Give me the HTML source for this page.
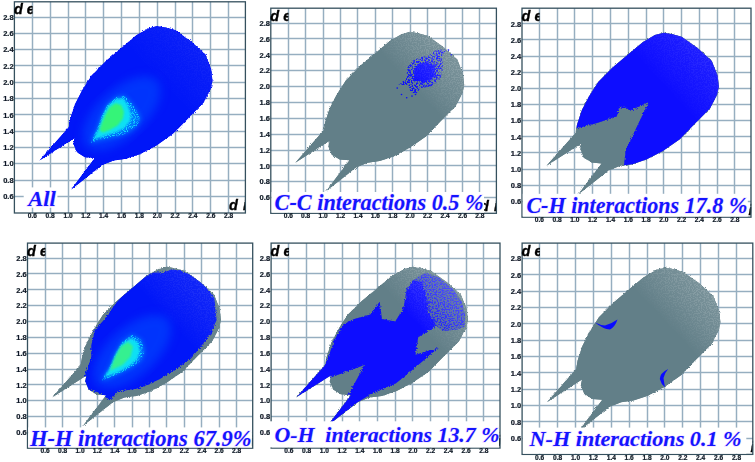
<!DOCTYPE html>
<html><head><meta charset="utf-8"><title>Fingerprint plots</title>
<style>html,body{margin:0;padding:0;background:#fff;}body{width:755px;height:462px;overflow:hidden;font-family:"Liberation Sans",sans-serif;}svg{display:block;}</style>
</head><body>
<svg width="755" height="462" viewBox="0 0 755 462">
<defs>
<filter id="rough" x="-5%" y="-5%" width="110%" height="110%">
<feTurbulence type="fractalNoise" baseFrequency="0.95" numOctaves="1" seed="3" result="n"/>
<feDisplacementMap in="SourceGraphic" in2="n" scale="4" xChannelSelector="R" yChannelSelector="G"/>
</filter>
<filter id="rough2" x="-5%" y="-5%" width="110%" height="110%">
<feTurbulence type="fractalNoise" baseFrequency="0.7" numOctaves="2" seed="8" result="n"/>
<feDisplacementMap in="SourceGraphic" in2="n" scale="5" xChannelSelector="R" yChannelSelector="G"/>
</filter>
<filter id="b1"><feGaussianBlur stdDeviation="1.2"/></filter>
<filter id="b2"><feGaussianBlur stdDeviation="2.5"/></filter>
<filter id="b4"><feGaussianBlur stdDeviation="5"/></filter>
<filter id="soft"><feGaussianBlur stdDeviation="0.35"/></filter>
<filter id="gsoft"><feGaussianBlur stdDeviation="0.5"/></filter>
<filter id="speck" x="0" y="0" width="100%" height="100%">
<feTurbulence type="fractalNoise" baseFrequency="0.9" numOctaves="1" seed="5" result="n"/>
<feColorMatrix in="n" type="matrix" values="0 0 0 0 0  0 0 0 0 0  0 0 0 0 0  6 0 0 0 -2.9" result="m"/>
<feComposite in="SourceGraphic" in2="m" operator="in"/>
</filter>
<filter id="speck2" x="0" y="0" width="100%" height="100%">
<feTurbulence type="fractalNoise" baseFrequency="0.75" numOctaves="2" seed="11" result="n"/>
<feColorMatrix in="n" type="matrix" values="0 0 0 0 0  0 0 0 0 0  0 0 0 0 0  9 0 0 0 -4.3" result="m"/>
<feComposite in="SourceGraphic" in2="m" operator="in"/>
</filter>
<filter id="speck3" x="0" y="0" width="100%" height="100%">
<feTurbulence type="fractalNoise" baseFrequency="0.6" numOctaves="2" seed="21" result="n"/>
<feColorMatrix in="n" type="matrix" values="0 0 0 0 0  0 0 0 0 0  0 0 0 0 0  9 0 0 0 -4.1" result="m"/>
<feComposite in="SourceGraphic" in2="m" operator="in"/>
</filter>
</defs>
<rect width="755" height="462" fill="#fff"/>
<g id="p0">
<g stroke="#96aec0" stroke-width="3.00" stroke-opacity="0.24"><line x1="32.5" y1="1.8" x2="32.5" y2="213.0"/><line x1="14.4" y1="196.5" x2="245.4" y2="196.5"/><line x1="50.5" y1="1.8" x2="50.5" y2="213.0"/><line x1="14.4" y1="180.5" x2="245.4" y2="180.5"/><line x1="68.5" y1="1.8" x2="68.5" y2="213.0"/><line x1="14.4" y1="163.5" x2="245.4" y2="163.5"/><line x1="85.5" y1="1.8" x2="85.5" y2="213.0"/><line x1="14.4" y1="147.5" x2="245.4" y2="147.5"/><line x1="103.5" y1="1.8" x2="103.5" y2="213.0"/><line x1="14.4" y1="131.5" x2="245.4" y2="131.5"/><line x1="121.5" y1="1.8" x2="121.5" y2="213.0"/><line x1="14.4" y1="114.5" x2="245.4" y2="114.5"/><line x1="139.5" y1="1.8" x2="139.5" y2="213.0"/><line x1="14.4" y1="98.5" x2="245.4" y2="98.5"/><line x1="157.5" y1="1.8" x2="157.5" y2="213.0"/><line x1="14.4" y1="82.5" x2="245.4" y2="82.5"/><line x1="175.5" y1="1.8" x2="175.5" y2="213.0"/><line x1="14.4" y1="65.5" x2="245.4" y2="65.5"/><line x1="192.5" y1="1.8" x2="192.5" y2="213.0"/><line x1="14.4" y1="49.5" x2="245.4" y2="49.5"/><line x1="210.5" y1="1.8" x2="210.5" y2="213.0"/><line x1="14.4" y1="33.5" x2="245.4" y2="33.5"/><line x1="228.5" y1="1.8" x2="228.5" y2="213.0"/><line x1="14.4" y1="17.5" x2="245.4" y2="17.5"/></g><g stroke="#96aec0" stroke-width="1.00" stroke-opacity="1.00"><line x1="32.5" y1="1.8" x2="32.5" y2="213.0"/><line x1="14.4" y1="196.5" x2="245.4" y2="196.5"/><line x1="50.5" y1="1.8" x2="50.5" y2="213.0"/><line x1="14.4" y1="180.5" x2="245.4" y2="180.5"/><line x1="68.5" y1="1.8" x2="68.5" y2="213.0"/><line x1="14.4" y1="163.5" x2="245.4" y2="163.5"/><line x1="85.5" y1="1.8" x2="85.5" y2="213.0"/><line x1="14.4" y1="147.5" x2="245.4" y2="147.5"/><line x1="103.5" y1="1.8" x2="103.5" y2="213.0"/><line x1="14.4" y1="131.5" x2="245.4" y2="131.5"/><line x1="121.5" y1="1.8" x2="121.5" y2="213.0"/><line x1="14.4" y1="114.5" x2="245.4" y2="114.5"/><line x1="139.5" y1="1.8" x2="139.5" y2="213.0"/><line x1="14.4" y1="98.5" x2="245.4" y2="98.5"/><line x1="157.5" y1="1.8" x2="157.5" y2="213.0"/><line x1="14.4" y1="82.5" x2="245.4" y2="82.5"/><line x1="175.5" y1="1.8" x2="175.5" y2="213.0"/><line x1="14.4" y1="65.5" x2="245.4" y2="65.5"/><line x1="192.5" y1="1.8" x2="192.5" y2="213.0"/><line x1="14.4" y1="49.5" x2="245.4" y2="49.5"/><line x1="210.5" y1="1.8" x2="210.5" y2="213.0"/><line x1="14.4" y1="33.5" x2="245.4" y2="33.5"/><line x1="228.5" y1="1.8" x2="228.5" y2="213.0"/><line x1="14.4" y1="17.5" x2="245.4" y2="17.5"/></g>
<clipPath id="c0"><rect x="14.4" y="1.8" width="231.0" height="211.2"/></clipPath>
<clipPath id="body0"><polygon points="39.5,160.5 68.7,127.2 70.2,118.8 74.9,104.4 82.1,90.4 91.4,75.7 105.5,61.5 122.2,47.2 136.4,35.3 148.3,28.5 157.3,26.1 166.2,27.7 175.1,30.1 191.1,41.5 205.4,54.6 211.2,69.2 212.5,80.6 210.8,88.8 203.6,102.6 189.4,117.0 173.3,133.6 156.4,145.5 140.3,153.9 125.9,158.8 113.6,160.5 101.8,165.3 71.0,189.8 94.8,158.0 85.0,157.2 77.0,152.3 73.4,143.8 74.6,137.9"/></clipPath>
<g clip-path="url(#c0)">
<polygon points="39.5,160.5 68.7,127.2 70.2,118.8 74.9,104.4 82.1,90.4 91.4,75.7 105.5,61.5 122.2,47.2 136.4,35.3 148.3,28.5 157.3,26.1 166.2,27.7 175.1,30.1 191.1,41.5 205.4,54.6 211.2,69.2 212.5,80.6 210.8,88.8 203.6,102.6 189.4,117.0 173.3,133.6 156.4,145.5 140.3,153.9 125.9,158.8 113.6,160.5 101.8,165.3 71.0,189.8 94.8,158.0 85.0,157.2 77.0,152.3 73.4,143.8 74.6,137.9" fill="#0412f8"/>
<polygon points="39.5,160.5 68.7,127.2 70.2,118.8 74.9,104.4 82.1,90.4 91.4,75.7 105.5,61.5 122.2,47.2 136.4,35.3 148.3,28.5 157.3,26.1 166.2,27.7 175.1,30.1 191.1,41.5 205.4,54.6 211.2,69.2 212.5,80.6 210.8,88.8 203.6,102.6 189.4,117.0 173.3,133.6 156.4,145.5 140.3,153.9 125.9,158.8 113.6,160.5 101.8,165.3 71.0,189.8 94.8,158.0 85.0,157.2 77.0,152.3 73.4,143.8 74.6,137.9" fill="#0412f8" filter="url(#rough)"/>
<g clip-path="url(#body0)"><ellipse cx="121.6" cy="113.2" rx="48" ry="24" transform="rotate(-42.4 121.6 113.2)" fill="#0050ff" opacity="0.55" filter="url(#b4)"/><polygon points="90.7,143.0 97.1,129.0 101.7,116.4 107.4,104.9 116.6,96.9 124.6,95.7 130.2,101.5 136.0,109.5 140.7,118.7 136.0,126.7 128.0,132.4 118.9,135.9 107.4,138.2 97.1,140.5" fill="#0090ff" opacity="0.75" filter="url(#b2)"/><polygon points="90.7,143.0 97.1,129.0 101.7,116.4 107.4,104.9 116.6,96.9 124.6,95.7 130.2,101.5 136.0,109.5 140.7,118.7 136.0,126.7 128.0,132.4 118.9,135.9 107.4,138.2 97.1,140.5" fill="#10d8ff" filter="url(#speck)"/><polygon points="93.5,139.3 98.8,127.9 102.9,116.1 108.2,105.5 116.2,99.0 123.4,98.6 127.8,105.1 130.5,113.2 130.5,120.5 124.3,127.9 116.2,132.0 106.4,135.2 98.4,137.7" fill="#10e0f4" filter="url(#b1)"/><polygon points="99.4,130.1 101.7,123.3 105.1,115.2 109.7,107.2 115.4,103.2 121.2,104.9 124.0,111.8 122.9,118.7 117.7,125.6 109.7,130.1 102.8,132.4" fill="#34f478" filter="url(#b1)"/></g>
<linearGradient id="lg0" gradientUnits="userSpaceOnUse" x1="155.5" y1="78.2" x2="194.7" y2="41.5"><stop offset="0" stop-color="#fff" stop-opacity="0"/><stop offset="0.55" stop-color="#fff" stop-opacity="0.02"/><stop offset="1" stop-color="#fff" stop-opacity="0.04"/></linearGradient>
<g clip-path="url(#body0)"><rect x="14.4" y="1.8" width="231.0" height="211.2" fill="url(#lg0)"/>
<rect x="112.7" y="17.1" width="115.9" height="105.9" fill="url(#lg0)" filter="url(#speck2)" opacity="1.00"/></g>
</g>
<clipPath id="di0"><rect x="225.4" y="197.0" width="20.3" height="20"/></clipPath>
<text x="228.9" y="210.4" clip-path="url(#di0)" font-family="Liberation Sans, sans-serif" font-weight="bold" font-style="italic" font-size="14.5" fill="#000" stroke="#000" stroke-width="0.35" word-spacing="1.2" filter="url(#soft)">d i</text>
<rect x="14.4" y="1.8" width="231.0" height="211.2" fill="none" stroke="#35505e" stroke-width="1.3"/>
<rect x="23.7" y="187.4" width="33.7" height="20.3" fill="#fff"/>
<g font-family="Liberation Sans, sans-serif" font-weight="bold" fill="#0e1a26" stroke="#0e1a26" stroke-width="0.22" filter="url(#soft)">
<text x="13.6" y="199.0" font-size="7.5" text-anchor="end">0.6</text>
<text transform="translate(32.4 218.1) scale(1 1)" font-size="6.6" text-anchor="middle">0.6</text>
<text x="13.6" y="182.7" font-size="7.5" text-anchor="end">0.8</text>
<text transform="translate(50.2 218.1) scale(1 1)" font-size="6.6" text-anchor="middle">0.8</text>
<text x="13.6" y="166.4" font-size="7.5" text-anchor="end">1.0</text>
<text transform="translate(68.1 218.1) scale(1 1)" font-size="6.6" text-anchor="middle">1.0</text>
<text x="13.6" y="150.1" font-size="7.5" text-anchor="end">1.2</text>
<text transform="translate(85.9 218.1) scale(1 1)" font-size="6.6" text-anchor="middle">1.2</text>
<text x="13.6" y="133.8" font-size="7.5" text-anchor="end">1.4</text>
<text transform="translate(103.7 218.1) scale(1 1)" font-size="6.6" text-anchor="middle">1.4</text>
<text x="13.6" y="117.5" font-size="7.5" text-anchor="end">1.6</text>
<text transform="translate(121.6 218.1) scale(1 1)" font-size="6.6" text-anchor="middle">1.6</text>
<text x="13.6" y="101.3" font-size="7.5" text-anchor="end">1.8</text>
<text transform="translate(139.4 218.1) scale(1 1)" font-size="6.6" text-anchor="middle">1.8</text>
<text x="13.6" y="85.0" font-size="7.5" text-anchor="end">2.0</text>
<text transform="translate(157.3 218.1) scale(1 1)" font-size="6.6" text-anchor="middle">2.0</text>
<text x="13.6" y="68.7" font-size="7.5" text-anchor="end">2.2</text>
<text transform="translate(175.1 218.1) scale(1 1)" font-size="6.6" text-anchor="middle">2.2</text>
<text x="13.6" y="52.4" font-size="7.5" text-anchor="end">2.4</text>
<text transform="translate(192.9 218.1) scale(1 1)" font-size="6.6" text-anchor="middle">2.4</text>
<text x="13.6" y="36.1" font-size="7.5" text-anchor="end">2.6</text>
<text transform="translate(210.8 218.1) scale(1 1)" font-size="6.6" text-anchor="middle">2.6</text>
<text x="13.6" y="19.8" font-size="7.5" text-anchor="end">2.8</text>
<text transform="translate(228.6 218.1) scale(1 1)" font-size="6.6" text-anchor="middle">2.8</text>
</g>
<g font-family="Liberation Sans, sans-serif" font-weight="bold" font-style="italic" font-size="14.5" fill="#000" stroke="#000" stroke-width="0.35" filter="url(#soft)">
<clipPath id="de0"><rect x="12.4" y="-0.2" width="20.2" height="20"/></clipPath>
<text x="13.9" y="14.3" clip-path="url(#de0)">d e</text>
</g>
<text x="28.3" y="205.8" textLength="27.6" lengthAdjust="spacingAndGlyphs" font-family="Liberation Serif, serif" font-weight="bold" font-style="italic" font-size="22.0" fill="#1414ff" stroke="#ecd6ff" stroke-width="1.2" paint-order="stroke" xml:space="preserve">All</text>
</g>
<g id="p1">
<g stroke="#96aec0" stroke-width="3.00" stroke-opacity="0.24"><line x1="288.5" y1="8.2" x2="288.5" y2="213.3"/><line x1="270.8" y1="197.5" x2="496.4" y2="197.5"/><line x1="305.5" y1="8.2" x2="305.5" y2="213.3"/><line x1="270.8" y1="181.5" x2="496.4" y2="181.5"/><line x1="323.5" y1="8.2" x2="323.5" y2="213.3"/><line x1="270.8" y1="165.5" x2="496.4" y2="165.5"/><line x1="340.5" y1="8.2" x2="340.5" y2="213.3"/><line x1="270.8" y1="150.5" x2="496.4" y2="150.5"/><line x1="357.5" y1="8.2" x2="357.5" y2="213.3"/><line x1="270.8" y1="134.5" x2="496.4" y2="134.5"/><line x1="375.5" y1="8.2" x2="375.5" y2="213.3"/><line x1="270.8" y1="118.5" x2="496.4" y2="118.5"/><line x1="392.5" y1="8.2" x2="392.5" y2="213.3"/><line x1="270.8" y1="102.5" x2="496.4" y2="102.5"/><line x1="410.5" y1="8.2" x2="410.5" y2="213.3"/><line x1="270.8" y1="86.5" x2="496.4" y2="86.5"/><line x1="427.5" y1="8.2" x2="427.5" y2="213.3"/><line x1="270.8" y1="70.5" x2="496.4" y2="70.5"/><line x1="445.5" y1="8.2" x2="445.5" y2="213.3"/><line x1="270.8" y1="54.5" x2="496.4" y2="54.5"/><line x1="462.5" y1="8.2" x2="462.5" y2="213.3"/><line x1="270.8" y1="38.5" x2="496.4" y2="38.5"/><line x1="479.5" y1="8.2" x2="479.5" y2="213.3"/><line x1="270.8" y1="23.5" x2="496.4" y2="23.5"/></g><g stroke="#96aec0" stroke-width="1.00" stroke-opacity="1.00"><line x1="288.5" y1="8.2" x2="288.5" y2="213.3"/><line x1="270.8" y1="197.5" x2="496.4" y2="197.5"/><line x1="305.5" y1="8.2" x2="305.5" y2="213.3"/><line x1="270.8" y1="181.5" x2="496.4" y2="181.5"/><line x1="323.5" y1="8.2" x2="323.5" y2="213.3"/><line x1="270.8" y1="165.5" x2="496.4" y2="165.5"/><line x1="340.5" y1="8.2" x2="340.5" y2="213.3"/><line x1="270.8" y1="150.5" x2="496.4" y2="150.5"/><line x1="357.5" y1="8.2" x2="357.5" y2="213.3"/><line x1="270.8" y1="134.5" x2="496.4" y2="134.5"/><line x1="375.5" y1="8.2" x2="375.5" y2="213.3"/><line x1="270.8" y1="118.5" x2="496.4" y2="118.5"/><line x1="392.5" y1="8.2" x2="392.5" y2="213.3"/><line x1="270.8" y1="102.5" x2="496.4" y2="102.5"/><line x1="410.5" y1="8.2" x2="410.5" y2="213.3"/><line x1="270.8" y1="86.5" x2="496.4" y2="86.5"/><line x1="427.5" y1="8.2" x2="427.5" y2="213.3"/><line x1="270.8" y1="70.5" x2="496.4" y2="70.5"/><line x1="445.5" y1="8.2" x2="445.5" y2="213.3"/><line x1="270.8" y1="54.5" x2="496.4" y2="54.5"/><line x1="462.5" y1="8.2" x2="462.5" y2="213.3"/><line x1="270.8" y1="38.5" x2="496.4" y2="38.5"/><line x1="479.5" y1="8.2" x2="479.5" y2="213.3"/><line x1="270.8" y1="23.5" x2="496.4" y2="23.5"/></g>
<clipPath id="c1"><rect x="270.8" y="8.2" width="225.6" height="205.1"/></clipPath>
<clipPath id="body1"><polygon points="295.3,162.7 323.7,130.3 325.2,122.1 329.8,108.1 336.8,94.5 346.0,80.2 359.7,66.3 376.0,52.4 389.8,40.9 401.5,34.2 410.2,31.8 418.9,33.4 427.6,35.8 443.3,46.9 457.3,59.6 462.9,73.9 464.2,85.0 462.5,92.9 455.5,106.4 441.6,120.3 425.9,136.5 409.4,148.1 393.7,156.4 379.6,161.1 367.6,162.7 356.1,167.5 326.0,191.3 349.3,160.3 339.7,159.5 331.8,154.8 328.4,146.5 329.5,140.7"/></clipPath>
<g clip-path="url(#c1)">
<polygon points="295.3,162.7 323.7,130.3 325.2,122.1 329.8,108.1 336.8,94.5 346.0,80.2 359.7,66.3 376.0,52.4 389.8,40.9 401.5,34.2 410.2,31.8 418.9,33.4 427.6,35.8 443.3,46.9 457.3,59.6 462.9,73.9 464.2,85.0 462.5,92.9 455.5,106.4 441.6,120.3 425.9,136.5 409.4,148.1 393.7,156.4 379.6,161.1 367.6,162.7 356.1,167.5 326.0,191.3 349.3,160.3 339.7,159.5 331.8,154.8 328.4,146.5 329.5,140.7" fill="#627f88"/>
<polygon points="295.3,162.7 323.7,130.3 325.2,122.1 329.8,108.1 336.8,94.5 346.0,80.2 359.7,66.3 376.0,52.4 389.8,40.9 401.5,34.2 410.2,31.8 418.9,33.4 427.6,35.8 443.3,46.9 457.3,59.6 462.9,73.9 464.2,85.0 462.5,92.9 455.5,106.4 441.6,120.3 425.9,136.5 409.4,148.1 393.7,156.4 379.6,161.1 367.6,162.7 356.1,167.5 326.0,191.3 349.3,160.3 339.7,159.5 331.8,154.8 328.4,146.5 329.5,140.7" fill="#627f88" filter="url(#rough)"/>
<g clip-path="url(#body1)"><polygon points="405.9,80.2 407.6,67.5 412.8,60.4 420.7,57.2 429.4,54.8 436.4,50.1 446.8,49.3 441.6,56.4 443.3,67.5 439.8,80.2 431.1,86.6 420.7,88.1 415.5,94.5 410.2,91.3 408.5,85.0 398.0,85.0" fill="#0a0aff" filter="url(#speck3)"/>
<polygon points="413.7,78.6 414.6,69.1 418.9,63.6 427.6,62.0 434.6,65.9 435.5,75.4 429.4,81.0 420.7,82.6" fill="#0a0aff" filter="url(#rough2)"/></g>
<g fill="#0a0aff">
<circle cx="397.2" cy="88.1" r="0.8"/>
<circle cx="401.5" cy="94.5" r="0.8"/>
<circle cx="406.7" cy="97.7" r="0.8"/>
<circle cx="412.0" cy="96.1" r="0.8"/>
<circle cx="415.5" cy="94.5" r="0.8"/>
<circle cx="448.5" cy="50.1" r="0.8"/>
<circle cx="451.2" cy="54.8" r="0.8"/>
<circle cx="403.3" cy="81.8" r="0.8"/>
</g>
<linearGradient id="lg1" gradientUnits="userSpaceOnUse" x1="408.5" y1="82.6" x2="446.8" y2="46.9"><stop offset="0" stop-color="#fff" stop-opacity="0"/><stop offset="0.55" stop-color="#fff" stop-opacity="0.09"/><stop offset="1" stop-color="#fff" stop-opacity="0.15"/></linearGradient>
<g clip-path="url(#body1)"><rect x="270.8" y="8.2" width="225.6" height="205.1" fill="url(#lg1)"/>
<rect x="366.7" y="23.1" width="113.2" height="103.1" fill="url(#lg1)" filter="url(#speck2)" opacity="1.00"/></g>
</g>
<clipPath id="di1"><rect x="476.4" y="197.3" width="20.3" height="20"/></clipPath>
<text x="479.9" y="210.7" clip-path="url(#di1)" font-family="Liberation Sans, sans-serif" font-weight="bold" font-style="italic" font-size="14.5" fill="#000" stroke="#000" stroke-width="0.35" word-spacing="1.2" filter="url(#soft)">d i</text>
<rect x="270.8" y="8.2" width="225.6" height="205.1" fill="none" stroke="#35505e" stroke-width="1.3"/>
<rect x="271.6" y="192.0" width="212.4" height="20.6" fill="#fff"/>
<g font-family="Liberation Sans, sans-serif" font-weight="bold" fill="#0e1a26" stroke="#0e1a26" stroke-width="0.22" filter="url(#soft)">
<text x="270.0" y="200.3" font-size="7.5" text-anchor="end">0.6</text>
<text transform="translate(288.3 218.4) scale(1 1)" font-size="6.6" text-anchor="middle">0.6</text>
<text x="270.0" y="184.4" font-size="7.5" text-anchor="end">0.8</text>
<text transform="translate(305.7 218.4) scale(1 1)" font-size="6.6" text-anchor="middle">0.8</text>
<text x="270.0" y="168.6" font-size="7.5" text-anchor="end">1.0</text>
<text transform="translate(323.1 218.4) scale(1 1)" font-size="6.6" text-anchor="middle">1.0</text>
<text x="270.0" y="152.7" font-size="7.5" text-anchor="end">1.2</text>
<text transform="translate(340.6 218.4) scale(1 1)" font-size="6.6" text-anchor="middle">1.2</text>
<text x="270.0" y="136.8" font-size="7.5" text-anchor="end">1.4</text>
<text transform="translate(358.0 218.4) scale(1 1)" font-size="6.6" text-anchor="middle">1.4</text>
<text x="270.0" y="121.0" font-size="7.5" text-anchor="end">1.6</text>
<text transform="translate(375.4 218.4) scale(1 1)" font-size="6.6" text-anchor="middle">1.6</text>
<text x="270.0" y="105.1" font-size="7.5" text-anchor="end">1.8</text>
<text transform="translate(392.8 218.4) scale(1 1)" font-size="6.6" text-anchor="middle">1.8</text>
<text x="270.0" y="89.3" font-size="7.5" text-anchor="end">2.0</text>
<text transform="translate(410.2 218.4) scale(1 1)" font-size="6.6" text-anchor="middle">2.0</text>
<text x="270.0" y="73.4" font-size="7.5" text-anchor="end">2.2</text>
<text transform="translate(427.6 218.4) scale(1 1)" font-size="6.6" text-anchor="middle">2.2</text>
<text x="270.0" y="57.5" font-size="7.5" text-anchor="end">2.4</text>
<text transform="translate(445.1 218.4) scale(1 1)" font-size="6.6" text-anchor="middle">2.4</text>
<text x="270.0" y="41.7" font-size="7.5" text-anchor="end">2.6</text>
<text transform="translate(462.5 218.4) scale(1 1)" font-size="6.6" text-anchor="middle">2.6</text>
<text x="270.0" y="25.8" font-size="7.5" text-anchor="end">2.8</text>
<text transform="translate(479.9 218.4) scale(1 1)" font-size="6.6" text-anchor="middle">2.8</text>
</g>
<g font-family="Liberation Sans, sans-serif" font-weight="bold" font-style="italic" font-size="14.5" fill="#000" stroke="#000" stroke-width="0.35" filter="url(#soft)">
<clipPath id="de1"><rect x="268.8" y="6.2" width="19.7" height="20"/></clipPath>
<text x="270.3" y="20.7" clip-path="url(#de1)">d e</text>
</g>
<text x="274.6" y="210.4" textLength="209.0" lengthAdjust="spacingAndGlyphs" font-family="Liberation Serif, serif" font-weight="bold" font-style="italic" font-size="22.3" fill="#1414ff" stroke="#ecd6ff" stroke-width="1.2" paint-order="stroke" xml:space="preserve">C-C interactions 0.5 %</text>
</g>
<g id="p2">
<g stroke="#96aec0" stroke-width="3.00" stroke-opacity="0.24"><line x1="539.5" y1="8.2" x2="539.5" y2="217.2"/><line x1="522.0" y1="201.5" x2="751.0" y2="201.5"/><line x1="557.5" y1="8.2" x2="557.5" y2="217.2"/><line x1="522.0" y1="185.5" x2="751.0" y2="185.5"/><line x1="574.5" y1="8.2" x2="574.5" y2="217.2"/><line x1="522.0" y1="169.5" x2="751.0" y2="169.5"/><line x1="592.5" y1="8.2" x2="592.5" y2="217.2"/><line x1="522.0" y1="152.5" x2="751.0" y2="152.5"/><line x1="610.5" y1="8.2" x2="610.5" y2="217.2"/><line x1="522.0" y1="136.5" x2="751.0" y2="136.5"/><line x1="628.5" y1="8.2" x2="628.5" y2="217.2"/><line x1="522.0" y1="120.5" x2="751.0" y2="120.5"/><line x1="646.5" y1="8.2" x2="646.5" y2="217.2"/><line x1="522.0" y1="104.5" x2="751.0" y2="104.5"/><line x1="663.5" y1="8.2" x2="663.5" y2="217.2"/><line x1="522.0" y1="88.5" x2="751.0" y2="88.5"/><line x1="681.5" y1="8.2" x2="681.5" y2="217.2"/><line x1="522.0" y1="72.5" x2="751.0" y2="72.5"/><line x1="699.5" y1="8.2" x2="699.5" y2="217.2"/><line x1="522.0" y1="56.5" x2="751.0" y2="56.5"/><line x1="717.5" y1="8.2" x2="717.5" y2="217.2"/><line x1="522.0" y1="39.5" x2="751.0" y2="39.5"/><line x1="734.5" y1="8.2" x2="734.5" y2="217.2"/><line x1="522.0" y1="23.5" x2="751.0" y2="23.5"/></g><g stroke="#96aec0" stroke-width="1.00" stroke-opacity="1.00"><line x1="539.5" y1="8.2" x2="539.5" y2="217.2"/><line x1="522.0" y1="201.5" x2="751.0" y2="201.5"/><line x1="557.5" y1="8.2" x2="557.5" y2="217.2"/><line x1="522.0" y1="185.5" x2="751.0" y2="185.5"/><line x1="574.5" y1="8.2" x2="574.5" y2="217.2"/><line x1="522.0" y1="169.5" x2="751.0" y2="169.5"/><line x1="592.5" y1="8.2" x2="592.5" y2="217.2"/><line x1="522.0" y1="152.5" x2="751.0" y2="152.5"/><line x1="610.5" y1="8.2" x2="610.5" y2="217.2"/><line x1="522.0" y1="136.5" x2="751.0" y2="136.5"/><line x1="628.5" y1="8.2" x2="628.5" y2="217.2"/><line x1="522.0" y1="120.5" x2="751.0" y2="120.5"/><line x1="646.5" y1="8.2" x2="646.5" y2="217.2"/><line x1="522.0" y1="104.5" x2="751.0" y2="104.5"/><line x1="663.5" y1="8.2" x2="663.5" y2="217.2"/><line x1="522.0" y1="88.5" x2="751.0" y2="88.5"/><line x1="681.5" y1="8.2" x2="681.5" y2="217.2"/><line x1="522.0" y1="72.5" x2="751.0" y2="72.5"/><line x1="699.5" y1="8.2" x2="699.5" y2="217.2"/><line x1="522.0" y1="56.5" x2="751.0" y2="56.5"/><line x1="717.5" y1="8.2" x2="717.5" y2="217.2"/><line x1="522.0" y1="39.5" x2="751.0" y2="39.5"/><line x1="734.5" y1="8.2" x2="734.5" y2="217.2"/><line x1="522.0" y1="23.5" x2="751.0" y2="23.5"/></g>
<clipPath id="c2"><rect x="522.0" y="8.2" width="229.0" height="209.0"/></clipPath>
<clipPath id="body2"><polygon points="546.5,165.8 575.6,132.9 577.1,124.5 581.8,110.3 588.9,96.4 598.2,81.9 612.3,67.8 628.9,53.7 643.0,41.9 654.9,35.1 663.8,32.7 672.7,34.3 681.6,36.7 697.6,48.0 711.8,60.9 717.6,75.4 718.9,86.7 717.1,94.8 710.0,108.5 695.8,122.7 679.8,139.2 662.9,151.0 646.9,159.3 632.5,164.2 620.3,165.8 608.5,170.6 577.9,194.8 601.6,163.4 591.8,162.6 583.8,157.7 580.3,149.3 581.4,143.5"/></clipPath>
<g clip-path="url(#c2)">
<polygon points="546.5,165.8 575.6,132.9 577.1,124.5 581.8,110.3 588.9,96.4 598.2,81.9 612.3,67.8 628.9,53.7 643.0,41.9 654.9,35.1 663.8,32.7 672.7,34.3 681.6,36.7 697.6,48.0 711.8,60.9 717.6,75.4 718.9,86.7 717.1,94.8 710.0,108.5 695.8,122.7 679.8,139.2 662.9,151.0 646.9,159.3 632.5,164.2 620.3,165.8 608.5,170.6 577.9,194.8 601.6,163.4 591.8,162.6 583.8,157.7 580.3,149.3 581.4,143.5" fill="#627f88"/>
<polygon points="546.5,165.8 575.6,132.9 577.1,124.5 581.8,110.3 588.9,96.4 598.2,81.9 612.3,67.8 628.9,53.7 643.0,41.9 654.9,35.1 663.8,32.7 672.7,34.3 681.6,36.7 697.6,48.0 711.8,60.9 717.6,75.4 718.9,86.7 717.1,94.8 710.0,108.5 695.8,122.7 679.8,139.2 662.9,151.0 646.9,159.3 632.5,164.2 620.3,165.8 608.5,170.6 577.9,194.8 601.6,163.4 591.8,162.6 583.8,157.7 580.3,149.3 581.4,143.5" fill="#627f88" filter="url(#rough)"/>
<g clip-path="url(#body2)"><polygon points="521.6,128.7 574.9,128.7 597.2,123.0 616.7,116.6 619.4,107.7 626.5,107.7 630.0,110.9 648.7,102.1 637.1,126.3 625.6,150.2 622.7,177.1 752.7,217.4 752.7,7.7 521.6,7.7" fill="#0a0aff" filter="url(#rough)"/></g>
<linearGradient id="lg2" gradientUnits="userSpaceOnUse" x1="662.0" y1="84.3" x2="701.1" y2="48.0"><stop offset="0" stop-color="#fff" stop-opacity="0"/><stop offset="0.55" stop-color="#fff" stop-opacity="0.04"/><stop offset="1" stop-color="#fff" stop-opacity="0.07"/></linearGradient>
<g clip-path="url(#body2)"><rect x="522.0" y="8.2" width="229.0" height="209.0" fill="url(#lg2)"/>
<rect x="619.4" y="23.8" width="115.5" height="104.9" fill="url(#lg2)" filter="url(#speck2)" opacity="1.00"/></g>
</g>
<clipPath id="di2"><rect x="731.0" y="201.2" width="20.3" height="20"/></clipPath>
<text x="734.5" y="214.6" clip-path="url(#di2)" font-family="Liberation Sans, sans-serif" font-weight="bold" font-style="italic" font-size="14.5" fill="#000" stroke="#000" stroke-width="0.35" word-spacing="1.2" filter="url(#soft)">d i</text>
<rect x="522.0" y="8.2" width="229.0" height="209.0" fill="none" stroke="#35505e" stroke-width="1.3"/>
<rect x="522.8" y="193.8" width="225.0" height="22.7" fill="#fff"/>
<g font-family="Liberation Sans, sans-serif" font-weight="bold" fill="#0e1a26" stroke="#0e1a26" stroke-width="0.22" filter="url(#soft)">
<text x="521.2" y="204.0" font-size="7.5" text-anchor="end">0.6</text>
<text transform="translate(539.4 222.3) scale(1 1)" font-size="6.6" text-anchor="middle">0.6</text>
<text x="521.2" y="187.9" font-size="7.5" text-anchor="end">0.8</text>
<text transform="translate(557.2 222.3) scale(1 1)" font-size="6.6" text-anchor="middle">0.8</text>
<text x="521.2" y="171.7" font-size="7.5" text-anchor="end">1.0</text>
<text transform="translate(574.9 222.3) scale(1 1)" font-size="6.6" text-anchor="middle">1.0</text>
<text x="521.2" y="155.6" font-size="7.5" text-anchor="end">1.2</text>
<text transform="translate(592.7 222.3) scale(1 1)" font-size="6.6" text-anchor="middle">1.2</text>
<text x="521.2" y="139.5" font-size="7.5" text-anchor="end">1.4</text>
<text transform="translate(610.5 222.3) scale(1 1)" font-size="6.6" text-anchor="middle">1.4</text>
<text x="521.2" y="123.3" font-size="7.5" text-anchor="end">1.6</text>
<text transform="translate(628.3 222.3) scale(1 1)" font-size="6.6" text-anchor="middle">1.6</text>
<text x="521.2" y="107.2" font-size="7.5" text-anchor="end">1.8</text>
<text transform="translate(646.0 222.3) scale(1 1)" font-size="6.6" text-anchor="middle">1.8</text>
<text x="521.2" y="91.0" font-size="7.5" text-anchor="end">2.0</text>
<text transform="translate(663.8 222.3) scale(1 1)" font-size="6.6" text-anchor="middle">2.0</text>
<text x="521.2" y="74.9" font-size="7.5" text-anchor="end">2.2</text>
<text transform="translate(681.6 222.3) scale(1 1)" font-size="6.6" text-anchor="middle">2.2</text>
<text x="521.2" y="58.8" font-size="7.5" text-anchor="end">2.4</text>
<text transform="translate(699.4 222.3) scale(1 1)" font-size="6.6" text-anchor="middle">2.4</text>
<text x="521.2" y="42.6" font-size="7.5" text-anchor="end">2.6</text>
<text transform="translate(717.1 222.3) scale(1 1)" font-size="6.6" text-anchor="middle">2.6</text>
<text x="521.2" y="26.5" font-size="7.5" text-anchor="end">2.8</text>
<text transform="translate(734.9 222.3) scale(1 1)" font-size="6.6" text-anchor="middle">2.8</text>
</g>
<g font-family="Liberation Sans, sans-serif" font-weight="bold" font-style="italic" font-size="14.5" fill="#000" stroke="#000" stroke-width="0.35" filter="url(#soft)">
<clipPath id="de2"><rect x="520.0" y="6.2" width="19.6" height="20"/></clipPath>
<text x="521.5" y="20.7" clip-path="url(#de2)">d e</text>
</g>
<text x="526.4" y="213.1" textLength="220.9" lengthAdjust="spacingAndGlyphs" font-family="Liberation Serif, serif" font-weight="bold" font-style="italic" font-size="23.0" fill="#1414ff" stroke="#ecd6ff" stroke-width="1.2" paint-order="stroke" xml:space="preserve">C-H interactions 17.8 %</text>
</g>
<g id="p3">
<g stroke="#96aec0" stroke-width="3.00" stroke-opacity="0.24"><line x1="45.5" y1="243.1" x2="45.5" y2="448.2"/><line x1="27.5" y1="432.5" x2="252.7" y2="432.5"/><line x1="62.5" y1="243.1" x2="62.5" y2="448.2"/><line x1="27.5" y1="416.5" x2="252.7" y2="416.5"/><line x1="80.5" y1="243.1" x2="80.5" y2="448.2"/><line x1="27.5" y1="400.5" x2="252.7" y2="400.5"/><line x1="97.5" y1="243.1" x2="97.5" y2="448.2"/><line x1="27.5" y1="384.5" x2="252.7" y2="384.5"/><line x1="114.5" y1="243.1" x2="114.5" y2="448.2"/><line x1="27.5" y1="369.5" x2="252.7" y2="369.5"/><line x1="132.5" y1="243.1" x2="132.5" y2="448.2"/><line x1="27.5" y1="353.5" x2="252.7" y2="353.5"/><line x1="149.5" y1="243.1" x2="149.5" y2="448.2"/><line x1="27.5" y1="337.5" x2="252.7" y2="337.5"/><line x1="166.5" y1="243.1" x2="166.5" y2="448.2"/><line x1="27.5" y1="321.5" x2="252.7" y2="321.5"/><line x1="184.5" y1="243.1" x2="184.5" y2="448.2"/><line x1="27.5" y1="305.5" x2="252.7" y2="305.5"/><line x1="201.5" y1="243.1" x2="201.5" y2="448.2"/><line x1="27.5" y1="289.5" x2="252.7" y2="289.5"/><line x1="219.5" y1="243.1" x2="219.5" y2="448.2"/><line x1="27.5" y1="273.5" x2="252.7" y2="273.5"/><line x1="236.5" y1="243.1" x2="236.5" y2="448.2"/><line x1="27.5" y1="258.5" x2="252.7" y2="258.5"/></g><g stroke="#96aec0" stroke-width="1.00" stroke-opacity="1.00"><line x1="45.5" y1="243.1" x2="45.5" y2="448.2"/><line x1="27.5" y1="432.5" x2="252.7" y2="432.5"/><line x1="62.5" y1="243.1" x2="62.5" y2="448.2"/><line x1="27.5" y1="416.5" x2="252.7" y2="416.5"/><line x1="80.5" y1="243.1" x2="80.5" y2="448.2"/><line x1="27.5" y1="400.5" x2="252.7" y2="400.5"/><line x1="97.5" y1="243.1" x2="97.5" y2="448.2"/><line x1="27.5" y1="384.5" x2="252.7" y2="384.5"/><line x1="114.5" y1="243.1" x2="114.5" y2="448.2"/><line x1="27.5" y1="369.5" x2="252.7" y2="369.5"/><line x1="132.5" y1="243.1" x2="132.5" y2="448.2"/><line x1="27.5" y1="353.5" x2="252.7" y2="353.5"/><line x1="149.5" y1="243.1" x2="149.5" y2="448.2"/><line x1="27.5" y1="337.5" x2="252.7" y2="337.5"/><line x1="166.5" y1="243.1" x2="166.5" y2="448.2"/><line x1="27.5" y1="321.5" x2="252.7" y2="321.5"/><line x1="184.5" y1="243.1" x2="184.5" y2="448.2"/><line x1="27.5" y1="305.5" x2="252.7" y2="305.5"/><line x1="201.5" y1="243.1" x2="201.5" y2="448.2"/><line x1="27.5" y1="289.5" x2="252.7" y2="289.5"/><line x1="219.5" y1="243.1" x2="219.5" y2="448.2"/><line x1="27.5" y1="273.5" x2="252.7" y2="273.5"/><line x1="236.5" y1="243.1" x2="236.5" y2="448.2"/><line x1="27.5" y1="258.5" x2="252.7" y2="258.5"/></g>
<clipPath id="c3"><rect x="27.5" y="243.1" width="225.2" height="205.1"/></clipPath>
<clipPath id="body3"><polygon points="52.2,397.5 80.6,365.2 82.1,357.0 86.7,343.0 93.7,329.4 102.8,315.1 116.5,301.3 132.8,287.4 146.6,275.8 158.3,269.2 167.0,266.8 175.7,268.4 184.4,270.8 200.1,281.9 214.0,294.5 219.6,308.8 220.9,319.9 219.2,327.8 212.2,341.3 198.3,355.2 182.7,371.4 166.1,383.0 150.5,391.2 136.4,396.0 124.4,397.5 112.9,402.3 82.9,426.1 106.1,395.2 96.5,394.4 88.7,389.6 85.2,381.4 86.4,375.6"/></clipPath>
<g clip-path="url(#c3)">
<polygon points="52.2,397.5 80.6,365.2 82.1,357.0 86.7,343.0 93.7,329.4 102.8,315.1 116.5,301.3 132.8,287.4 146.6,275.8 158.3,269.2 167.0,266.8 175.7,268.4 184.4,270.8 200.1,281.9 214.0,294.5 219.6,308.8 220.9,319.9 219.2,327.8 212.2,341.3 198.3,355.2 182.7,371.4 166.1,383.0 150.5,391.2 136.4,396.0 124.4,397.5 112.9,402.3 82.9,426.1 106.1,395.2 96.5,394.4 88.7,389.6 85.2,381.4 86.4,375.6" fill="#627f88"/>
<polygon points="52.2,397.5 80.6,365.2 82.1,357.0 86.7,343.0 93.7,329.4 102.8,315.1 116.5,301.3 132.8,287.4 146.6,275.8 158.3,269.2 167.0,266.8 175.7,268.4 184.4,270.8 200.1,281.9 214.0,294.5 219.6,308.8 220.9,319.9 219.2,327.8 212.2,341.3 198.3,355.2 182.7,371.4 166.1,383.0 150.5,391.2 136.4,396.0 124.4,397.5 112.9,402.3 82.9,426.1 106.1,395.2 96.5,394.4 88.7,389.6 85.2,381.4 86.4,375.6" fill="#627f88" filter="url(#rough)"/>
<g clip-path="url(#body3)"><polygon points="84.3,376.9 87.0,369.0 91.3,357.9 91.3,345.2 94.8,330.2 103.8,319.9 116.5,302.5 128.7,289.0 141.8,277.1 153.9,272.4 163.5,272.4 172.2,269.2 180.4,270.8 193.1,275.5 201.8,281.3 214.4,298.5 216.6,319.9 210.5,334.2 201.8,345.2 191.4,357.9 180.0,366.6 159.6,379.3 145.2,385.7 136.4,388.8 117.9,391.5 109.6,400.7 106.1,397.5 97.4,392.0 86.6,389.2 84.3,380.9" fill="#0412f8" filter="url(#rough)"/></g>
<clipPath id="hhc"><polygon points="84.3,376.9 87.0,369.0 91.3,357.9 91.3,345.2 94.8,330.2 103.8,319.9 116.5,302.5 128.7,289.0 141.8,277.1 153.9,272.4 163.5,272.4 172.2,269.2 180.4,270.8 193.1,275.5 201.8,281.3 214.4,298.5 216.6,319.9 210.5,334.2 201.8,345.2 191.4,357.9 180.0,366.6 159.6,379.3 145.2,385.7 136.4,388.8 117.9,391.5 109.6,400.7 106.1,397.5 97.4,392.0 86.6,389.2 84.3,380.9"/></clipPath>
<g clip-path="url(#hhc)"><g clip-path="url(#body3)"><ellipse cx="132.2" cy="351.6" rx="48" ry="24" transform="rotate(-42.3 132.2 351.6)" fill="#0050ff" opacity="0.55" filter="url(#b4)"/><polygon points="101.2,381.1 109.8,367.2 115.6,353.3 122.5,341.8 131.8,334.7 141.1,339.4 144.6,351.0 141.1,360.2 131.8,367.2 117.9,374.2" fill="#0090ff" opacity="0.75" filter="url(#b2)"/><polygon points="101.2,381.1 109.8,367.2 115.6,353.3 122.5,341.8 131.8,334.7 141.1,339.4 144.6,351.0 141.1,360.2 131.8,367.2 117.9,374.2" fill="#10d8ff" filter="url(#speck)"/><polygon points="104.4,376.9 111.3,365.8 116.5,353.2 122.6,343.7 130.5,338.1 137.4,342.1 140.0,350.8 137.4,358.7 129.6,365.8 118.3,372.2" fill="#10e0f4" filter="url(#b1)"/><polygon points="109.8,370.8 114.5,357.9 120.7,346.4 128.3,341.8 133.0,346.4 130.6,356.8 122.5,364.9" fill="#34f090" filter="url(#b1)"/></g></g>
<linearGradient id="lg3" gradientUnits="userSpaceOnUse" x1="165.3" y1="317.5" x2="203.5" y2="281.9"><stop offset="0" stop-color="#fff" stop-opacity="0"/><stop offset="0.55" stop-color="#fff" stop-opacity="0.04"/><stop offset="1" stop-color="#fff" stop-opacity="0.07"/></linearGradient>
<g clip-path="url(#body3)"><rect x="27.5" y="243.1" width="225.2" height="205.1" fill="url(#lg3)"/>
<rect x="123.5" y="258.1" width="113.1" height="103.0" fill="url(#lg3)" filter="url(#speck2)" opacity="1.00"/></g>
</g>
<clipPath id="di3"><rect x="232.7" y="432.2" width="20.3" height="20"/></clipPath>
<text x="236.2" y="445.6" clip-path="url(#di3)" font-family="Liberation Sans, sans-serif" font-weight="bold" font-style="italic" font-size="14.5" fill="#000" stroke="#000" stroke-width="0.35" word-spacing="1.2" filter="url(#soft)">d i</text>
<rect x="27.5" y="243.1" width="225.2" height="205.1" fill="none" stroke="#35505e" stroke-width="1.3"/>
<rect x="28.2" y="427.4" width="223.7" height="20.1" fill="#fff"/>
<g font-family="Liberation Sans, sans-serif" font-weight="bold" fill="#0e1a26" stroke="#0e1a26" stroke-width="0.22" filter="url(#soft)">
<text x="26.7" y="435.1" font-size="7.5" text-anchor="end">0.6</text>
<text transform="translate(45.2 453.3) scale(1 1)" font-size="6.6" text-anchor="middle">0.6</text>
<text x="26.7" y="419.3" font-size="7.5" text-anchor="end">0.8</text>
<text transform="translate(62.6 453.3) scale(1 1)" font-size="6.6" text-anchor="middle">0.8</text>
<text x="26.7" y="403.4" font-size="7.5" text-anchor="end">1.0</text>
<text transform="translate(80.0 453.3) scale(1 1)" font-size="6.6" text-anchor="middle">1.0</text>
<text x="26.7" y="387.6" font-size="7.5" text-anchor="end">1.2</text>
<text transform="translate(97.4 453.3) scale(1 1)" font-size="6.6" text-anchor="middle">1.2</text>
<text x="26.7" y="371.7" font-size="7.5" text-anchor="end">1.4</text>
<text transform="translate(114.8 453.3) scale(1 1)" font-size="6.6" text-anchor="middle">1.4</text>
<text x="26.7" y="355.9" font-size="7.5" text-anchor="end">1.6</text>
<text transform="translate(132.2 453.3) scale(1 1)" font-size="6.6" text-anchor="middle">1.6</text>
<text x="26.7" y="340.0" font-size="7.5" text-anchor="end">1.8</text>
<text transform="translate(149.6 453.3) scale(1 1)" font-size="6.6" text-anchor="middle">1.8</text>
<text x="26.7" y="324.2" font-size="7.5" text-anchor="end">2.0</text>
<text transform="translate(167.0 453.3) scale(1 1)" font-size="6.6" text-anchor="middle">2.0</text>
<text x="26.7" y="308.3" font-size="7.5" text-anchor="end">2.2</text>
<text transform="translate(184.4 453.3) scale(1 1)" font-size="6.6" text-anchor="middle">2.2</text>
<text x="26.7" y="292.5" font-size="7.5" text-anchor="end">2.4</text>
<text transform="translate(201.8 453.3) scale(1 1)" font-size="6.6" text-anchor="middle">2.4</text>
<text x="26.7" y="276.6" font-size="7.5" text-anchor="end">2.6</text>
<text transform="translate(219.2 453.3) scale(1 1)" font-size="6.6" text-anchor="middle">2.6</text>
<text x="26.7" y="260.8" font-size="7.5" text-anchor="end">2.8</text>
<text transform="translate(236.6 453.3) scale(1 1)" font-size="6.6" text-anchor="middle">2.8</text>
</g>
<g font-family="Liberation Sans, sans-serif" font-weight="bold" font-style="italic" font-size="14.5" fill="#000" stroke="#000" stroke-width="0.35" filter="url(#soft)">
<clipPath id="de3"><rect x="25.5" y="241.1" width="19.9" height="20"/></clipPath>
<text x="27.0" y="255.6" clip-path="url(#de3)">d e</text>
</g>
<text x="30.0" y="445.9" textLength="221.4" lengthAdjust="spacingAndGlyphs" font-family="Liberation Serif, serif" font-weight="bold" font-style="italic" font-size="23.0" fill="#1414ff" stroke="#ecd6ff" stroke-width="1.2" paint-order="stroke" xml:space="preserve">H-H interactions 67.9%</text>
</g>
<g id="p4">
<g stroke="#96aec0" stroke-width="3.00" stroke-opacity="0.24"><line x1="288.5" y1="243.1" x2="288.5" y2="448.1"/><line x1="271.1" y1="432.5" x2="500.0" y2="432.5"/><line x1="306.5" y1="243.1" x2="306.5" y2="448.1"/><line x1="271.1" y1="416.5" x2="500.0" y2="416.5"/><line x1="324.5" y1="243.1" x2="324.5" y2="448.1"/><line x1="271.1" y1="400.5" x2="500.0" y2="400.5"/><line x1="342.5" y1="243.1" x2="342.5" y2="448.1"/><line x1="271.1" y1="384.5" x2="500.0" y2="384.5"/><line x1="359.5" y1="243.1" x2="359.5" y2="448.1"/><line x1="271.1" y1="369.5" x2="500.0" y2="369.5"/><line x1="377.5" y1="243.1" x2="377.5" y2="448.1"/><line x1="271.1" y1="353.5" x2="500.0" y2="353.5"/><line x1="395.5" y1="243.1" x2="395.5" y2="448.1"/><line x1="271.1" y1="337.5" x2="500.0" y2="337.5"/><line x1="412.5" y1="243.1" x2="412.5" y2="448.1"/><line x1="271.1" y1="321.5" x2="500.0" y2="321.5"/><line x1="430.5" y1="243.1" x2="430.5" y2="448.1"/><line x1="271.1" y1="305.5" x2="500.0" y2="305.5"/><line x1="448.5" y1="243.1" x2="448.5" y2="448.1"/><line x1="271.1" y1="289.5" x2="500.0" y2="289.5"/><line x1="466.5" y1="243.1" x2="466.5" y2="448.1"/><line x1="271.1" y1="273.5" x2="500.0" y2="273.5"/><line x1="483.5" y1="243.1" x2="483.5" y2="448.1"/><line x1="271.1" y1="258.5" x2="500.0" y2="258.5"/></g><g stroke="#96aec0" stroke-width="1.00" stroke-opacity="1.00"><line x1="288.5" y1="243.1" x2="288.5" y2="448.1"/><line x1="271.1" y1="432.5" x2="500.0" y2="432.5"/><line x1="306.5" y1="243.1" x2="306.5" y2="448.1"/><line x1="271.1" y1="416.5" x2="500.0" y2="416.5"/><line x1="324.5" y1="243.1" x2="324.5" y2="448.1"/><line x1="271.1" y1="400.5" x2="500.0" y2="400.5"/><line x1="342.5" y1="243.1" x2="342.5" y2="448.1"/><line x1="271.1" y1="384.5" x2="500.0" y2="384.5"/><line x1="359.5" y1="243.1" x2="359.5" y2="448.1"/><line x1="271.1" y1="369.5" x2="500.0" y2="369.5"/><line x1="377.5" y1="243.1" x2="377.5" y2="448.1"/><line x1="271.1" y1="353.5" x2="500.0" y2="353.5"/><line x1="395.5" y1="243.1" x2="395.5" y2="448.1"/><line x1="271.1" y1="337.5" x2="500.0" y2="337.5"/><line x1="412.5" y1="243.1" x2="412.5" y2="448.1"/><line x1="271.1" y1="321.5" x2="500.0" y2="321.5"/><line x1="430.5" y1="243.1" x2="430.5" y2="448.1"/><line x1="271.1" y1="305.5" x2="500.0" y2="305.5"/><line x1="448.5" y1="243.1" x2="448.5" y2="448.1"/><line x1="271.1" y1="289.5" x2="500.0" y2="289.5"/><line x1="466.5" y1="243.1" x2="466.5" y2="448.1"/><line x1="271.1" y1="273.5" x2="500.0" y2="273.5"/><line x1="483.5" y1="243.1" x2="483.5" y2="448.1"/><line x1="271.1" y1="258.5" x2="500.0" y2="258.5"/></g>
<clipPath id="c4"><rect x="271.1" y="243.1" width="228.9" height="205.0"/></clipPath>
<clipPath id="body4"><polygon points="296.0,397.5 325.0,365.2 326.5,357.0 331.2,343.0 338.2,329.4 347.5,315.1 361.5,301.3 378.1,287.4 392.2,275.8 404.1,269.2 412.9,266.8 421.8,268.4 430.6,270.8 446.6,281.9 460.8,294.5 466.5,308.8 467.9,319.9 466.1,327.8 459.0,341.3 444.8,355.2 428.9,371.4 412.0,383.0 396.1,391.2 381.7,396.0 369.5,397.5 357.8,402.3 327.3,426.1 350.9,395.2 341.2,394.4 333.2,389.6 329.7,381.4 330.8,375.6"/></clipPath>
<g clip-path="url(#c4)">
<polygon points="296.0,397.5 325.0,365.2 326.5,357.0 331.2,343.0 338.2,329.4 347.5,315.1 361.5,301.3 378.1,287.4 392.2,275.8 404.1,269.2 412.9,266.8 421.8,268.4 430.6,270.8 446.6,281.9 460.8,294.5 466.5,308.8 467.9,319.9 466.1,327.8 459.0,341.3 444.8,355.2 428.9,371.4 412.0,383.0 396.1,391.2 381.7,396.0 369.5,397.5 357.8,402.3 327.3,426.1 350.9,395.2 341.2,394.4 333.2,389.6 329.7,381.4 330.8,375.6" fill="#627f88"/>
<polygon points="296.0,397.5 325.0,365.2 326.5,357.0 331.2,343.0 338.2,329.4 347.5,315.1 361.5,301.3 378.1,287.4 392.2,275.8 404.1,269.2 412.9,266.8 421.8,268.4 430.6,270.8 446.6,281.9 460.8,294.5 466.5,308.8 467.9,319.9 466.1,327.8 459.0,341.3 444.8,355.2 428.9,371.4 412.0,383.0 396.1,391.2 381.7,396.0 369.5,397.5 357.8,402.3 327.3,426.1 350.9,395.2 341.2,394.4 333.2,389.6 329.7,381.4 330.8,375.6" fill="#627f88" filter="url(#rough)"/>
<g clip-path="url(#body4)"><polygon points="296.0,397.5 326.1,362.7 334.5,339.7 342.7,324.7 354.2,319.1 370.4,314.4 379.7,301.7 381.9,319.1 395.2,321.5 403.2,308.8 406.7,289.8 412.9,280.3 421.8,281.9 427.1,297.7 428.9,313.6 436.0,325.4 430.6,329.4 418.2,337.3 415.6,354.8 438.6,347.6 417.4,365.8 396.1,383.3 370.4,394.4 357.8,402.3 327.3,426.1 348.4,394.8 364.6,365.1 329.9,377.7" fill="#0a0aff" filter="url(#rough)"/>
<polygon points="412.9,280.3 425.3,272.4 439.5,277.9 452.8,289.0 461.7,301.7 465.2,315.1 464.3,327.0 457.2,329.4 443.0,331.0 436.0,325.4 428.9,313.6 427.1,297.7 421.8,281.9" fill="#0a0aff" opacity="0.22"/>
<polygon points="412.9,280.3 425.3,272.4 439.5,277.9 452.8,289.0 461.7,301.7 465.2,315.1 464.3,327.0 457.2,329.4 443.0,331.0 436.0,325.4 428.9,313.6 427.1,297.7 421.8,281.9" fill="#0a0aff" filter="url(#speck2)"/></g>
<linearGradient id="lg4" gradientUnits="userSpaceOnUse" x1="411.2" y1="317.5" x2="450.1" y2="281.9"><stop offset="0" stop-color="#fff" stop-opacity="0"/><stop offset="0.55" stop-color="#fff" stop-opacity="0.09"/><stop offset="1" stop-color="#fff" stop-opacity="0.15"/></linearGradient>
<g clip-path="url(#body4)"><rect x="271.1" y="243.1" width="228.9" height="205.0" fill="url(#lg4)"/>
<rect x="368.6" y="258.1" width="115.2" height="103.0" fill="url(#lg4)" filter="url(#speck2)" opacity="1.00"/></g>
</g>
<clipPath id="di4"><rect x="480.0" y="432.1" width="20.3" height="20"/></clipPath>
<text x="483.5" y="445.5" clip-path="url(#di4)" font-family="Liberation Sans, sans-serif" font-weight="bold" font-style="italic" font-size="14.5" fill="#000" stroke="#000" stroke-width="0.35" word-spacing="1.2" filter="url(#soft)">d i</text>
<rect x="271.1" y="243.1" width="228.9" height="205.0" fill="none" stroke="#35505e" stroke-width="1.3"/>
<rect x="268.0" y="421.3" width="231.0" height="26.1" fill="#fff"/>
<g font-family="Liberation Sans, sans-serif" font-weight="bold" fill="#0e1a26" stroke="#0e1a26" stroke-width="0.22" filter="url(#soft)">
<text x="270.3" y="435.1" font-size="7.5" text-anchor="end">0.6</text>
<text transform="translate(288.9 453.2) scale(1 1)" font-size="6.6" text-anchor="middle">0.6</text>
<text x="270.3" y="419.3" font-size="7.5" text-anchor="end">0.8</text>
<text transform="translate(306.6 453.2) scale(1 1)" font-size="6.6" text-anchor="middle">0.8</text>
<text x="270.3" y="403.4" font-size="7.5" text-anchor="end">1.0</text>
<text transform="translate(324.3 453.2) scale(1 1)" font-size="6.6" text-anchor="middle">1.0</text>
<text x="270.3" y="387.6" font-size="7.5" text-anchor="end">1.2</text>
<text transform="translate(342.1 453.2) scale(1 1)" font-size="6.6" text-anchor="middle">1.2</text>
<text x="270.3" y="371.7" font-size="7.5" text-anchor="end">1.4</text>
<text transform="translate(359.8 453.2) scale(1 1)" font-size="6.6" text-anchor="middle">1.4</text>
<text x="270.3" y="355.9" font-size="7.5" text-anchor="end">1.6</text>
<text transform="translate(377.5 453.2) scale(1 1)" font-size="6.6" text-anchor="middle">1.6</text>
<text x="270.3" y="340.0" font-size="7.5" text-anchor="end">1.8</text>
<text transform="translate(395.2 453.2) scale(1 1)" font-size="6.6" text-anchor="middle">1.8</text>
<text x="270.3" y="324.2" font-size="7.5" text-anchor="end">2.0</text>
<text transform="translate(412.9 453.2) scale(1 1)" font-size="6.6" text-anchor="middle">2.0</text>
<text x="270.3" y="308.3" font-size="7.5" text-anchor="end">2.2</text>
<text transform="translate(430.6 453.2) scale(1 1)" font-size="6.6" text-anchor="middle">2.2</text>
<text x="270.3" y="292.5" font-size="7.5" text-anchor="end">2.4</text>
<text transform="translate(448.4 453.2) scale(1 1)" font-size="6.6" text-anchor="middle">2.4</text>
<text x="270.3" y="276.6" font-size="7.5" text-anchor="end">2.6</text>
<text transform="translate(466.1 453.2) scale(1 1)" font-size="6.6" text-anchor="middle">2.6</text>
<text x="270.3" y="260.8" font-size="7.5" text-anchor="end">2.8</text>
<text transform="translate(483.8 453.2) scale(1 1)" font-size="6.6" text-anchor="middle">2.8</text>
</g>
<g font-family="Liberation Sans, sans-serif" font-weight="bold" font-style="italic" font-size="14.5" fill="#000" stroke="#000" stroke-width="0.35" filter="url(#soft)">
<clipPath id="de4"><rect x="269.1" y="241.1" width="20.0" height="20"/></clipPath>
<text x="270.6" y="255.6" clip-path="url(#de4)">d e</text>
</g>
<text x="274.4" y="441.9" textLength="225.0" lengthAdjust="spacingAndGlyphs" font-family="Liberation Serif, serif" font-weight="bold" font-style="italic" font-size="22.0" fill="#1414ff" stroke="#ecd6ff" stroke-width="1.2" paint-order="stroke" xml:space="preserve">O-H  interactions 13.7 %</text>
</g>
<g id="p5">
<g stroke="#96aec0" stroke-width="3.00" stroke-opacity="0.24"><line x1="539.5" y1="243.1" x2="539.5" y2="454.4"/><line x1="522.1" y1="438.5" x2="752.8" y2="438.5"/><line x1="557.5" y1="243.1" x2="557.5" y2="454.4"/><line x1="522.1" y1="421.5" x2="752.8" y2="421.5"/><line x1="575.5" y1="243.1" x2="575.5" y2="454.4"/><line x1="522.1" y1="405.5" x2="752.8" y2="405.5"/><line x1="593.5" y1="243.1" x2="593.5" y2="454.4"/><line x1="522.1" y1="389.5" x2="752.8" y2="389.5"/><line x1="611.5" y1="243.1" x2="611.5" y2="454.4"/><line x1="522.1" y1="372.5" x2="752.8" y2="372.5"/><line x1="629.5" y1="243.1" x2="629.5" y2="454.4"/><line x1="522.1" y1="356.5" x2="752.8" y2="356.5"/><line x1="647.5" y1="243.1" x2="647.5" y2="454.4"/><line x1="522.1" y1="340.5" x2="752.8" y2="340.5"/><line x1="664.5" y1="243.1" x2="664.5" y2="454.4"/><line x1="522.1" y1="323.5" x2="752.8" y2="323.5"/><line x1="682.5" y1="243.1" x2="682.5" y2="454.4"/><line x1="522.1" y1="307.5" x2="752.8" y2="307.5"/><line x1="700.5" y1="243.1" x2="700.5" y2="454.4"/><line x1="522.1" y1="291.5" x2="752.8" y2="291.5"/><line x1="718.5" y1="243.1" x2="718.5" y2="454.4"/><line x1="522.1" y1="274.5" x2="752.8" y2="274.5"/><line x1="736.5" y1="243.1" x2="736.5" y2="454.4"/><line x1="522.1" y1="258.5" x2="752.8" y2="258.5"/></g><g stroke="#96aec0" stroke-width="1.00" stroke-opacity="1.00"><line x1="539.5" y1="243.1" x2="539.5" y2="454.4"/><line x1="522.1" y1="438.5" x2="752.8" y2="438.5"/><line x1="557.5" y1="243.1" x2="557.5" y2="454.4"/><line x1="522.1" y1="421.5" x2="752.8" y2="421.5"/><line x1="575.5" y1="243.1" x2="575.5" y2="454.4"/><line x1="522.1" y1="405.5" x2="752.8" y2="405.5"/><line x1="593.5" y1="243.1" x2="593.5" y2="454.4"/><line x1="522.1" y1="389.5" x2="752.8" y2="389.5"/><line x1="611.5" y1="243.1" x2="611.5" y2="454.4"/><line x1="522.1" y1="372.5" x2="752.8" y2="372.5"/><line x1="629.5" y1="243.1" x2="629.5" y2="454.4"/><line x1="522.1" y1="356.5" x2="752.8" y2="356.5"/><line x1="647.5" y1="243.1" x2="647.5" y2="454.4"/><line x1="522.1" y1="340.5" x2="752.8" y2="340.5"/><line x1="664.5" y1="243.1" x2="664.5" y2="454.4"/><line x1="522.1" y1="323.5" x2="752.8" y2="323.5"/><line x1="682.5" y1="243.1" x2="682.5" y2="454.4"/><line x1="522.1" y1="307.5" x2="752.8" y2="307.5"/><line x1="700.5" y1="243.1" x2="700.5" y2="454.4"/><line x1="522.1" y1="291.5" x2="752.8" y2="291.5"/><line x1="718.5" y1="243.1" x2="718.5" y2="454.4"/><line x1="522.1" y1="274.5" x2="752.8" y2="274.5"/><line x1="736.5" y1="243.1" x2="736.5" y2="454.4"/><line x1="522.1" y1="258.5" x2="752.8" y2="258.5"/></g>
<clipPath id="c5"><rect x="522.1" y="243.1" width="230.7" height="211.3"/></clipPath>
<clipPath id="body5"><polygon points="546.9,402.2 576.1,368.9 577.6,360.4 582.4,346.1 589.5,332.0 598.9,317.3 613.1,303.1 629.8,288.8 644.0,276.9 656.0,270.0 664.9,267.6 673.9,269.2 682.8,271.7 698.9,283.1 713.2,296.1 719.1,310.8 720.4,322.2 718.6,330.4 711.5,344.3 697.1,358.6 681.0,375.3 664.0,387.2 647.9,395.7 633.4,400.6 621.1,402.2 609.3,407.1 578.4,431.6 602.3,399.8 592.5,398.9 584.4,394.0 580.8,385.6 582.0,379.6"/></clipPath>
<g clip-path="url(#c5)">
<polygon points="546.9,402.2 576.1,368.9 577.6,360.4 582.4,346.1 589.5,332.0 598.9,317.3 613.1,303.1 629.8,288.8 644.0,276.9 656.0,270.0 664.9,267.6 673.9,269.2 682.8,271.7 698.9,283.1 713.2,296.1 719.1,310.8 720.4,322.2 718.6,330.4 711.5,344.3 697.1,358.6 681.0,375.3 664.0,387.2 647.9,395.7 633.4,400.6 621.1,402.2 609.3,407.1 578.4,431.6 602.3,399.8 592.5,398.9 584.4,394.0 580.8,385.6 582.0,379.6" fill="#627f88"/>
<polygon points="546.9,402.2 576.1,368.9 577.6,360.4 582.4,346.1 589.5,332.0 598.9,317.3 613.1,303.1 629.8,288.8 644.0,276.9 656.0,270.0 664.9,267.6 673.9,269.2 682.8,271.7 698.9,283.1 713.2,296.1 719.1,310.8 720.4,322.2 718.6,330.4 711.5,344.3 697.1,358.6 681.0,375.3 664.0,387.2 647.9,395.7 633.4,400.6 621.1,402.2 609.3,407.1 578.4,431.6 602.3,399.8 592.5,398.9 584.4,394.0 580.8,385.6 582.0,379.6" fill="#627f88" filter="url(#rough)"/>
<path d="M595,322.5 Q603,329 610,329.5 Q615,327 617.5,319.5 Q611,324 605,325.5 Q600,325 595,322.5 Z" fill="#0a0aff"/>
<path d="M668.2,369 Q660,373 659.8,379 Q661,384 665,387.3 Q664,382 663.5,378 Q664.5,373 668.2,369 Z" fill="#0a0aff"/>
<linearGradient id="lg5" gradientUnits="userSpaceOnUse" x1="663.1" y1="319.8" x2="702.5" y2="283.1"><stop offset="0" stop-color="#fff" stop-opacity="0"/><stop offset="0.55" stop-color="#fff" stop-opacity="0.09"/><stop offset="1" stop-color="#fff" stop-opacity="0.15"/></linearGradient>
<g clip-path="url(#body5)"><rect x="522.1" y="243.1" width="230.7" height="211.3" fill="url(#lg5)"/>
<rect x="620.2" y="258.6" width="116.3" height="106.1" fill="url(#lg5)" filter="url(#speck2)" opacity="1.00"/></g>
</g>
<clipPath id="di5"><rect x="732.8" y="438.4" width="20.3" height="20"/></clipPath>
<text x="736.3" y="451.8" clip-path="url(#di5)" font-family="Liberation Sans, sans-serif" font-weight="bold" font-style="italic" font-size="14.5" fill="#000" stroke="#000" stroke-width="0.35" word-spacing="1.2" filter="url(#soft)">d i</text>
<rect x="522.1" y="243.1" width="230.7" height="211.3" fill="none" stroke="#35505e" stroke-width="1.3"/>
<rect x="522.9" y="427.6" width="223.4" height="26.1" fill="#fff"/>
<g font-family="Liberation Sans, sans-serif" font-weight="bold" fill="#0e1a26" stroke="#0e1a26" stroke-width="0.22" filter="url(#soft)">
<text x="521.3" y="440.8" font-size="7.5" text-anchor="end">0.6</text>
<text transform="translate(539.7 459.5) scale(1 1)" font-size="6.6" text-anchor="middle">0.6</text>
<text x="521.3" y="424.5" font-size="7.5" text-anchor="end">0.8</text>
<text transform="translate(557.6 459.5) scale(1 1)" font-size="6.6" text-anchor="middle">0.8</text>
<text x="521.3" y="408.2" font-size="7.5" text-anchor="end">1.0</text>
<text transform="translate(575.5 459.5) scale(1 1)" font-size="6.6" text-anchor="middle">1.0</text>
<text x="521.3" y="391.8" font-size="7.5" text-anchor="end">1.2</text>
<text transform="translate(593.4 459.5) scale(1 1)" font-size="6.6" text-anchor="middle">1.2</text>
<text x="521.3" y="375.5" font-size="7.5" text-anchor="end">1.4</text>
<text transform="translate(611.3 459.5) scale(1 1)" font-size="6.6" text-anchor="middle">1.4</text>
<text x="521.3" y="359.2" font-size="7.5" text-anchor="end">1.6</text>
<text transform="translate(629.2 459.5) scale(1 1)" font-size="6.6" text-anchor="middle">1.6</text>
<text x="521.3" y="342.9" font-size="7.5" text-anchor="end">1.8</text>
<text transform="translate(647.0 459.5) scale(1 1)" font-size="6.6" text-anchor="middle">1.8</text>
<text x="521.3" y="326.6" font-size="7.5" text-anchor="end">2.0</text>
<text transform="translate(664.9 459.5) scale(1 1)" font-size="6.6" text-anchor="middle">2.0</text>
<text x="521.3" y="310.3" font-size="7.5" text-anchor="end">2.2</text>
<text transform="translate(682.8 459.5) scale(1 1)" font-size="6.6" text-anchor="middle">2.2</text>
<text x="521.3" y="293.9" font-size="7.5" text-anchor="end">2.4</text>
<text transform="translate(700.7 459.5) scale(1 1)" font-size="6.6" text-anchor="middle">2.4</text>
<text x="521.3" y="277.6" font-size="7.5" text-anchor="end">2.6</text>
<text transform="translate(718.6 459.5) scale(1 1)" font-size="6.6" text-anchor="middle">2.6</text>
<text x="521.3" y="261.3" font-size="7.5" text-anchor="end">2.8</text>
<text transform="translate(736.5 459.5) scale(1 1)" font-size="6.6" text-anchor="middle">2.8</text>
</g>
<g font-family="Liberation Sans, sans-serif" font-weight="bold" font-style="italic" font-size="14.5" fill="#000" stroke="#000" stroke-width="0.35" filter="url(#soft)">
<clipPath id="de5"><rect x="520.1" y="241.1" width="19.8" height="20"/></clipPath>
<text x="521.6" y="255.6" clip-path="url(#de5)">d e</text>
</g>
<text x="529.6" y="446.0" textLength="212.0" lengthAdjust="spacingAndGlyphs" font-family="Liberation Serif, serif" font-weight="bold" font-style="italic" font-size="22.0" fill="#1414ff" stroke="#ecd6ff" stroke-width="1.2" paint-order="stroke" xml:space="preserve">N-H interactions 0.1 %</text>
</g>
</svg>
</body></html>
